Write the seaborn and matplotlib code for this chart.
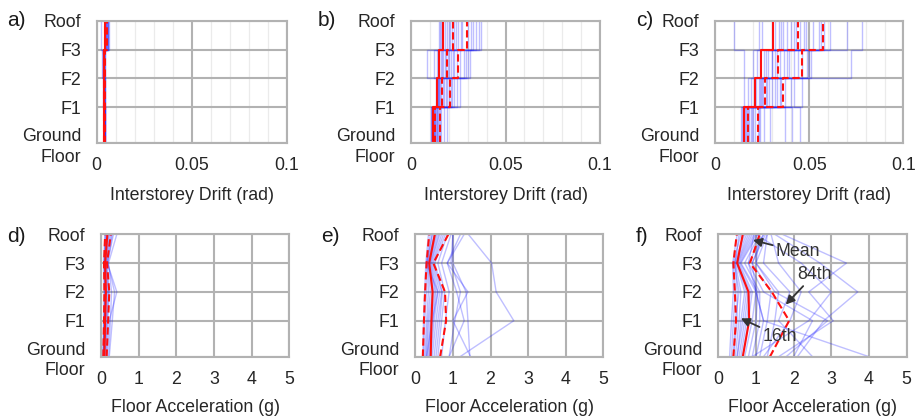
import numpy as np
import pandas as pd
import matplotlib
matplotlib.use("Agg")
import matplotlib.pyplot as plt
from matplotlib.ticker import MultipleLocator
import seaborn as sns

# Floor levels (ground storey is taller) and their labels
floor_h = [0.0, 1.25, 2.25, 3.25, 4.25]
floor_labels = ["Ground\nFloor", "F1", "F2", "F3", "Roof"]

# ---- Interstorey drift (rad) per record, storeys 1..4 ----
drift_a = [
    [0.0040, 0.0038, 0.0030, 0.0046],
    [0.0042, 0.0040, 0.0036, 0.0050],
    [0.0038, 0.0037, 0.0041, 0.0058],
    [0.0044, 0.0042, 0.0039, 0.0062],
    [0.0036, 0.0035, 0.0032, 0.0044],
    [0.0041, 0.0043, 0.0044, 0.0053],
    [0.0039, 0.0041, 0.0037, 0.0049],
    [0.0043, 0.0039, 0.0040, 0.0064],
    [0.0037, 0.0036, 0.0034, 0.0022],
    [0.0045, 0.0044, 0.0042, 0.0056],
    [0.0040, 0.0038, 0.0035, 0.0047],
    [0.0042, 0.0041, 0.0038, 0.0060],
]
drift_b = [
    [0.0105, 0.0140, 0.0150, 0.0160],
    [0.0110, 0.0135, 0.0120, 0.0150],
    [0.0115, 0.0150, 0.0165, 0.0180],
    [0.0120, 0.0145, 0.0170, 0.0200],
    [0.0125, 0.0160, 0.0185, 0.0215],
    [0.0112, 0.0138, 0.0140, 0.0170],
    [0.0118, 0.0155, 0.0195, 0.0230],
    [0.0130, 0.0175, 0.0210, 0.0250],
    [0.0135, 0.0190, 0.0230, 0.0270],
    [0.0140, 0.0200, 0.0245, 0.0300],
    [0.0150, 0.0215, 0.0260, 0.0320],
    [0.0160, 0.0230, 0.0280, 0.0345],
    [0.0175, 0.0260, 0.0300, 0.0370],
    [0.0108, 0.0132, 0.0085, 0.0155],
    [0.0122, 0.0142, 0.0160, 0.0190],
    [0.0128, 0.0168, 0.0200, 0.0240],
    [0.0145, 0.0185, 0.0220, 0.0265],
    [0.0155, 0.0210, 0.0290, 0.0330],
    [0.0190, 0.0245, 0.0310, 0.0360],
    [0.0116, 0.0148, 0.0178, 0.0205],
]
drift_c = [
    [0.0135, 0.0150, 0.0150, 0.0100],
    [0.0140, 0.0190, 0.0220, 0.0250],
    [0.0150, 0.0205, 0.0240, 0.0300],
    [0.0155, 0.0215, 0.0260, 0.0320],
    [0.0160, 0.0230, 0.0280, 0.0350],
    [0.0165, 0.0245, 0.0300, 0.0380],
    [0.0170, 0.0255, 0.0320, 0.0400],
    [0.0180, 0.0270, 0.0345, 0.0430],
    [0.0190, 0.0285, 0.0365, 0.0450],
    [0.0200, 0.0300, 0.0390, 0.0480],
    [0.0210, 0.0320, 0.0420, 0.0520],
    [0.0225, 0.0345, 0.0460, 0.0550],
    [0.0240, 0.0370, 0.0490, 0.0580],
    [0.0260, 0.0400, 0.0510, 0.0610],
    [0.0290, 0.0460, 0.0720, 0.0780],
    [0.0370, 0.0250, 0.0300, 0.0340],
    [0.0410, 0.0330, 0.0380, 0.0470],
    [0.0450, 0.0420, 0.0500, 0.0700],
    [0.0145, 0.0175, 0.0200, 0.0230],
    [0.0175, 0.0240, 0.0270, 0.0360],
    [0.0195, 0.0275, 0.0330, 0.0420],
    [0.0230, 0.0350, 0.0440, 0.0560],
]

# Drift statistics (storeys 1..4)
drift_stats = {
    "a": {"solid": [0.0040, 0.0040, 0.0039, 0.0046],
          "dash_lo": [0.0037, 0.0038, 0.0036, 0.0043],
          "dash_hi": [0.0045, 0.0043, 0.0042, 0.0055]},
    "b": {"solid": [0.0118, 0.0139, 0.0150, 0.0168],
          "dash_lo": [0.0125, 0.0166, 0.0189, 0.0224],
          "dash_hi": [0.0153, 0.0207, 0.0247, 0.0295]},
    "c": {"solid": [0.0154, 0.0211, 0.0243, 0.0309],
          "dash_lo": [0.0172, 0.0264, 0.0335, 0.0441],
          "dash_hi": [0.0229, 0.0358, 0.0459, 0.0574]},
}

# ---- Floor acceleration (g) per record: Ground, F1, F2, F3, Roof ----
acc_d = [
    [0.05, 0.07, 0.08, 0.07, 0.12],
    [0.06, 0.08, 0.10, 0.09, 0.14],
    [0.07, 0.09, 0.11, 0.10, 0.15],
    [0.08, 0.10, 0.12, 0.10, 0.17],
    [0.09, 0.12, 0.15, 0.11, 0.20],
    [0.10, 0.14, 0.18, 0.12, 0.22],
    [0.12, 0.16, 0.20, 0.14, 0.25],
    [0.14, 0.18, 0.22, 0.15, 0.28],
    [0.16, 0.22, 0.42, 0.17, 0.33],
    [0.20, 0.25, 0.28, 0.20, 0.42],
    [0.22, 0.30, 0.36, 0.18, 0.30],
    [0.06, 0.09, 0.13, 0.08, 0.10],
]
acc_e = [
    [0.20, 0.22, 0.25, 0.28, 0.35],
    [0.22, 0.25, 0.30, 0.30, 0.40],
    [0.25, 0.30, 0.35, 0.32, 0.45],
    [0.28, 0.33, 0.40, 0.33, 0.50],
    [0.30, 0.36, 0.45, 0.35, 0.52],
    [0.33, 0.40, 0.48, 0.36, 0.55],
    [0.36, 0.43, 0.52, 0.38, 0.58],
    [0.38, 0.47, 0.55, 0.40, 0.62],
    [0.42, 0.50, 0.60, 0.42, 0.65],
    [0.45, 0.55, 0.65, 0.45, 0.70],
    [0.50, 0.60, 0.70, 0.48, 0.75],
    [0.55, 0.65, 0.72, 0.52, 0.80],
    [0.60, 0.70, 0.78, 0.60, 0.85],
    [0.70, 0.80, 0.90, 0.70, 0.95],
    [0.90, 1.05, 1.20, 0.95, 1.00],
    [1.19, 2.62, 2.15, 2.03, 1.41],
    [1.47, 1.00, 1.40, 0.85, 1.30],
    [1.45, 1.40, 1.35, 1.00, 1.00],
    [0.90, 1.30, 1.10, 0.85, 1.20],
    [0.30, 0.45, 0.60, 0.30, 0.45],
]
acc_f = [
    [0.30, 0.35, 0.40, 0.38, 0.50],
    [0.35, 0.40, 0.45, 0.40, 0.60],
    [0.40, 0.45, 0.55, 0.42, 0.70],
    [0.45, 0.55, 0.60, 0.45, 0.75],
    [0.50, 0.60, 0.70, 0.48, 0.80],
    [0.55, 0.70, 0.80, 0.50, 0.85],
    [0.60, 0.75, 0.85, 0.52, 0.90],
    [0.65, 0.80, 0.90, 0.55, 0.95],
    [0.70, 0.90, 1.00, 0.58, 1.00],
    [0.80, 1.00, 1.05, 0.60, 1.05],
    [0.90, 1.10, 1.10, 0.70, 1.10],
    [1.00, 1.20, 1.00, 0.80, 1.20],
    [1.10, 1.30, 1.40, 0.90, 1.25],
    [1.30, 1.50, 1.60, 1.00, 1.30],
    [0.40, 0.50, 0.50, 0.45, 0.55],
    [0.50, 0.65, 0.75, 0.50, 0.65],
    [2.10, 2.80, 3.70, 2.70, 1.50],
    [1.60, 3.05, 2.40, 3.40, 1.70],
    [4.00, 1.20, 1.00, 0.90, 1.20],
    [2.50, 1.60, 1.90, 1.20, 1.30],
    [0.90, 2.40, 3.00, 2.20, 1.00],
    [1.80, 2.90, 1.50, 1.00, 1.10],
    [1.20, 1.90, 2.20, 1.60, 1.40],
    [2.00, 2.50, 1.20, 0.80, 0.95],
]

# Acceleration statistics (Ground..Roof)
acc_stats = {
    "d": {"p16": [0.06, 0.08, 0.09, 0.08, 0.11],
          "mean": [0.09, 0.11, 0.13, 0.11, 0.17],
          "p84": [0.15, 0.19, 0.22, 0.16, 0.26]},
    "e": {"p16": [0.20, 0.23, 0.26, 0.30, 0.37],
          "mean": [0.41, 0.43, 0.46, 0.37, 0.52],
          "p84": [0.66, 0.82, 0.79, 0.48, 0.88]},
    "f": {"p16": [0.40, 0.47, 0.44, 0.40, 0.49],
          "mean": [0.65, 0.82, 0.80, 0.50, 0.65],
          "p84": [1.37, 1.88, 1.42, 0.84, 1.10]},
}

# Annotation labels in panel f: text, text position, arrow tip (x in g, y in floor units)
annot_text = ["Mean", "84th", "16th"]
annot_xytext = [(1.53, 3.64), (2.09, 2.86), (1.18, 0.70)]
annot_xy = [(0.92, 4.05), (1.79, 1.81), (0.60, 1.33)]

sns.set_theme(style="white")
plt.rcParams["font.family"] = ["Liberation Sans", "DejaVu Sans"]
plt.rcParams["text.color"] = "#1a1a1a"

BLUE = "#1a1aff"
RED = "#ff1010"
GRID = "#b2b2b2"
FS = 12.8


def step_frame(records):
    """Long table of storey-wise step paths for drift profiles."""
    rows = []
    for r, vals in enumerate(records):
        for s, v in enumerate(vals):
            rows.append((r, v, floor_h[s]))
            rows.append((r, v, floor_h[s + 1]))
    return pd.DataFrame(rows, columns=["rec", "x", "y"])


def floor_frame(records):
    rows = []
    for r, vals in enumerate(records):
        for f, v in enumerate(vals):
            rows.append((r, v, floor_h[f]))
    return pd.DataFrame(rows, columns=["rec", "x", "y"])


def style_axis(ax, xmax, xticks, xticklabels, xlabel, minor=None, labelpad=9):
    ax.set_xlim(0, xmax)
    ax.set_ylim(0, floor_h[-1])
    ax.set_yticks(floor_h)
    ax.set_yticklabels(floor_labels, fontsize=FS, linespacing=1.25)
    ax.set_xticks(xticks)
    ax.set_xticklabels(xticklabels, fontsize=FS)
    if minor is not None:
        ax.xaxis.set_minor_locator(MultipleLocator(minor))
        ax.grid(True, which="minor", axis="x", color="#ebebeb", lw=0.9)
    ax.grid(True, which="major", color=GRID, lw=1.5)
    ax.set_axisbelow(True)
    for sp in ax.spines.values():
        sp.set_color(GRID)
        sp.set_linewidth(1.5)
    ax.tick_params(axis="y", which="major", direction="out", length=4.8,
                   width=1.6, color="black", pad=6.5, labelsize=FS)
    ax.tick_params(axis="x", which="major", direction="out", length=3.6,
                   width=1.6, color="black", pad=6.4, labelsize=FS)
    ax.tick_params(axis="x", which="minor", length=0)
    ax.set_xlabel(xlabel, fontsize=FS, labelpad=labelpad)
    ax.set_ylabel("")


fig = plt.figure(figsize=(9.21, 4.16), dpi=100)
W = 921.0
H = 416.0
top_pos = [(96.7, 286.7), (411.0, 600.0), (715.3, 903.3)]
bot_pos = [(101.0, 289.3), (415.3, 603.3), (718.3, 906.7)]
label_x = {"a": 7, "b": 318, "c": 636, "d": 7, "e": 321, "f": 636}


def make_ax(lr, top, bottom):
    l, r = lr
    return fig.add_axes([l / W, 1 - bottom / H, (r - l) / W, (bottom - top) / H])


def dashed(ax):
    ax.lines[-1].set_linestyle((0, (3.5, 1.8)))


drift_sets = [("a", drift_a), ("b", drift_b), ("c", drift_c)]
for (key, recs), lr in zip(drift_sets, top_pos):
    ax = make_ax(lr, 20.7, 143.3)
    sns.lineplot(data=step_frame(recs), x="x", y="y", units="rec", estimator=None,
                 sort=False, color=BLUE, alpha=0.28, lw=1.0, ax=ax, legend=False)
    st = drift_stats[key]
    sns.lineplot(data=step_frame([st["solid"]]), x="x", y="y", units="rec",
                 estimator=None, sort=False, color=RED, lw=1.5, ax=ax, legend=False)
    for name in ("dash_lo", "dash_hi"):
        sns.lineplot(data=step_frame([st[name]]), x="x", y="y", units="rec",
                     estimator=None, sort=False, color=RED, lw=1.5, ax=ax, legend=False)
        dashed(ax)
    style_axis(ax, 0.1, [0, 0.05, 0.1], ["0", "0.05", "0.1"],
               "Interstorey Drift (rad)", minor=0.01, labelpad=9)
    fig.text(label_x[key] / W, 1 - 20 / H, f"{key})", fontsize=15, va="center", ha="left")

acc_sets = [("d", acc_d), ("e", acc_e), ("f", acc_f)]
for (key, recs), lr in zip(acc_sets, bot_pos):
    ax = make_ax(lr, 234.3, 356.7)
    sns.lineplot(data=floor_frame(recs), x="x", y="y", units="rec", estimator=None,
                 sort=False, color=BLUE, alpha=0.28, lw=1.0, ax=ax, legend=False)
    st = acc_stats[key]
    for name in ("p16", "mean", "p84"):
        sns.lineplot(data=floor_frame([st[name]]), x="x", y="y", units="rec",
                     estimator=None, sort=False, color=RED, lw=1.5, ax=ax, legend=False)
        if name != "mean":
            dashed(ax)
    style_axis(ax, 5, [0, 1, 2, 3, 4, 5], ["0", "1", "2", "3", "4", "5"],
               "Floor Acceleration (g)", labelpad=8)
    fig.text(label_x[key] / W, 1 - 236 / H, f"{key})", fontsize=15, va="center", ha="left")
    if key == "f":
        for txt, xyt, xy in zip(annot_text, annot_xytext, annot_xy):
            ax.annotate(txt, xy=xy, xytext=xyt, fontsize=FS, color="#333333",
                        ha="left", va="center",
                        arrowprops=dict(arrowstyle="-|>", color="#333333", lw=1.3,
                                        mutation_scale=13, shrinkA=0, shrinkB=0))

fig.savefig("out.png", dpi=100)
